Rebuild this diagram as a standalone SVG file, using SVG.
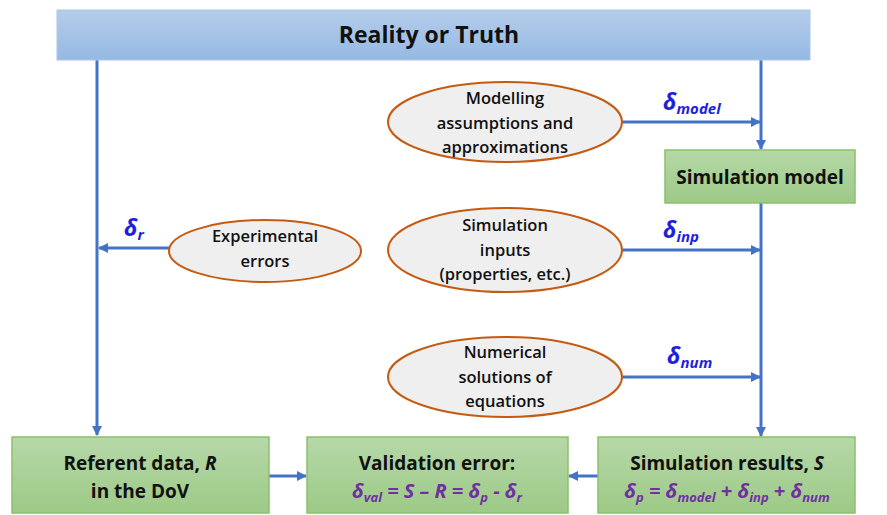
<svg xmlns="http://www.w3.org/2000/svg" width="887" height="515" viewBox="0 0 887 515">
<defs>
<linearGradient id="gBlue" x1="0" y1="0" x2="0" y2="1"><stop offset="0" stop-color="#b5cdea"/><stop offset="1" stop-color="#95b9e3"/></linearGradient>
<linearGradient id="gGreen" x1="0" y1="0" x2="0" y2="1"><stop offset="0" stop-color="#b6d8a8"/><stop offset="1" stop-color="#9dca87"/></linearGradient>
<marker id="ah" markerWidth="10" markerHeight="10" refX="9" refY="5" orient="auto" markerUnits="userSpaceOnUse" viewBox="0 0 10 10"><path d="M0,0 L10,5 L0,10 z" fill="#4472c4"/></marker>
<style>
.t{font-family:"Open Sans","Liberation Sans",sans-serif;font-weight:bold;fill:#111;text-anchor:middle}
.e{font-family:"Open Sans","Liberation Sans",sans-serif;font-weight:600;font-size:16.5px;fill:#111;text-anchor:middle}
.box{fill:url(#gGreen);stroke:#8cc06c;stroke-width:1.5}
.ell{fill:#efefef;stroke:#c55a11;stroke-width:2}
.c{stroke:#4472c4;stroke-width:3;fill:none}
.d{font-family:"Open Sans","Liberation Sans",sans-serif;font-weight:bold;font-style:italic;fill:#1f1fe0}
.p{font-family:"Open Sans","Liberation Sans",sans-serif;font-weight:bold;font-style:italic;fill:#7030a0;text-anchor:middle}
</style>
</defs>
<rect width="887" height="515" fill="#fff"/>
<g id="connectors">
<line class="c" x1="97" y1="60" x2="97" y2="435" marker-end="url(#ah)"/>
<line class="c" x1="761" y1="60" x2="761" y2="149" marker-end="url(#ah)"/>
<line class="c" x1="761" y1="203" x2="761" y2="436" marker-end="url(#ah)"/>
<line class="c" x1="622" y1="122" x2="760" y2="122" marker-end="url(#ah)"/>
<line class="c" x1="622" y1="250" x2="760" y2="250" marker-end="url(#ah)"/>
<line class="c" x1="622" y1="377" x2="760" y2="377" marker-end="url(#ah)"/>
<line class="c" x1="169" y1="248" x2="99" y2="248" marker-end="url(#ah)"/>
<line class="c" x1="268" y1="476" x2="306" y2="476" marker-end="url(#ah)"/>
<line class="c" x1="598" y1="476" x2="569" y2="476" marker-end="url(#ah)"/>
<text class="d" x="663" y="110" font-size="23">δ<tspan font-size="15" dy="4">model</tspan></text>
<text class="d" x="663" y="238" font-size="23">δ<tspan font-size="15" dy="4">inp</tspan></text>
<text class="d" x="667" y="364" font-size="23">δ<tspan font-size="15" dy="4">num</tspan></text>
<text class="d" x="124" y="236" font-size="23">δ<tspan font-size="15" dy="4">r</tspan></text>
</g>
<g id="reality">
<rect x="57" y="10" width="753" height="50" fill="url(#gBlue)" stroke="#a9c6ea" stroke-width="1"/>
<text class="t" x="429" y="43" font-size="23">Reality or Truth</text>
</g>
<g id="modelling">
<ellipse class="ell" cx="505" cy="122" rx="117" ry="40"/>
<text class="e" x="505" y="104">Modelling</text>
<text class="e" x="505" y="129">assumptions and</text>
<text class="e" x="505" y="153">approximations</text>
</g>
<g id="simmodel">
<rect class="box" x="665" y="150" width="190" height="53"/>
<text class="t" x="760" y="184" font-size="19">Simulation model</text>
</g>
<g id="experimental">
<ellipse class="ell" cx="265" cy="251" rx="96" ry="31"/>
<text class="e" x="265" y="242">Experimental</text>
<text class="e" x="265" y="267">errors</text>
</g>
<g id="inputs">
<ellipse class="ell" cx="505" cy="250" rx="117" ry="42"/>
<text class="e" x="505" y="231">Simulation</text>
<text class="e" x="505" y="256">inputs</text>
<text class="e" x="505" y="280">(properties, etc.)</text>
</g>
<g id="numerical">
<ellipse class="ell" cx="505" cy="377" rx="117" ry="40"/>
<text class="e" x="505" y="358">Numerical</text>
<text class="e" x="505" y="383">solutions of</text>
<text class="e" x="505" y="407">equations</text>
</g>
<g id="referent">
<rect class="box" x="12" y="437" width="257" height="76"/>
<text class="t" x="140" y="470" font-size="19">Referent data, <tspan font-style="italic">R</tspan></text>
<text class="t" x="140" y="498" font-size="19">in the DoV</text>
</g>
<g id="validation">
<rect class="box" x="307" y="437" width="261" height="76"/>
<text class="t" x="437" y="470" font-size="19">Validation error:</text>
<text class="p" x="437" y="498" font-size="20">δ<tspan font-size="13" dy="4">val</tspan><tspan dy="-4"> = S – R = δ</tspan><tspan font-size="13" dy="4">p</tspan><tspan dy="-4"> - δ</tspan><tspan font-size="13" dy="4">r</tspan></text>
</g>
<g id="simresults">
<rect class="box" x="598" y="437" width="257" height="76"/>
<text class="t" x="727" y="470" font-size="19">Simulation results, <tspan font-style="italic">S</tspan></text>
<text class="p" x="727" y="498" font-size="20">δ<tspan font-size="13" dy="4">p</tspan><tspan dy="-4"> = δ</tspan><tspan font-size="13" dy="4">model</tspan><tspan dy="-4"> + δ</tspan><tspan font-size="13" dy="4">inp</tspan><tspan dy="-4"> + δ</tspan><tspan font-size="13" dy="4">num</tspan></text>
</g>
</svg>
